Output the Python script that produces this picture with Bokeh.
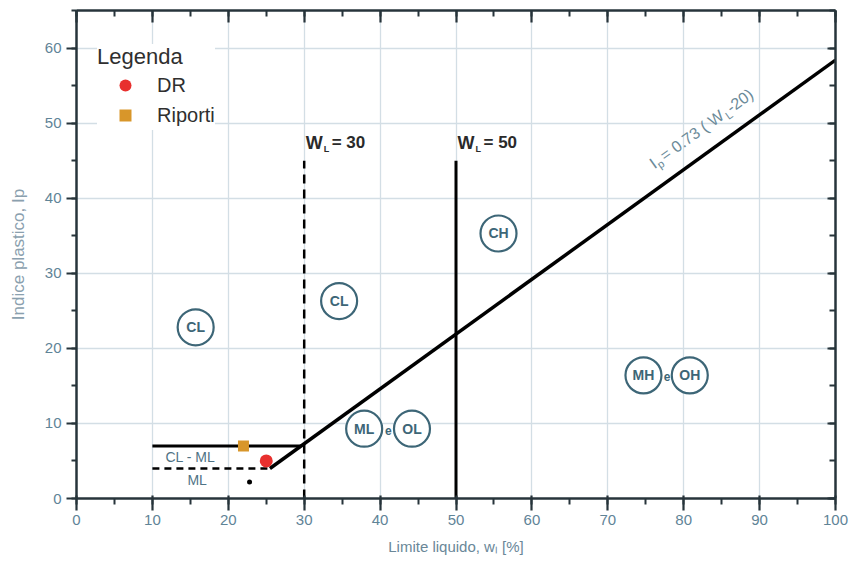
import math

from bokeh.core.properties import value
from bokeh.embed import file_html
from bokeh.models import (ColumnDataSource, CustomJSTickFormatter, Label, Legend,
                          LegendItem, LinearAxis, Range1d, SingleIntervalTicker)
from bokeh.plotting import figure
from bokeh.resources import INLINE

# ---- chart values -------------------------------------------------------
# Casagrande plasticity chart: A-line Ip = 0.73 (wL - 20)
a_coeff = 0.73
a_offset = 20.0
wl_end = 100.0

ip_cl_ml = 7.0        # upper limit of the CL-ML band
ip_ml = 4.0           # lower limit of the CL-ML band
wl_band_start = 10.0
wl_divides = [30.0, 50.0]
wl_divide_top = 45.0

dr_wl = [25.0]
dr_ip = [5.0]
riporti_wl = [22.0]
riporti_ip = [7.0]
extra_wl = [22.8]
extra_ip = [2.2]

zone_names = ["CL", "CL", "CH", "ML", "OL", "MH", "OH"]
zone_wl = [15.7, 34.6, 55.6, 37.9, 44.2, 74.7, 80.8]
zone_ip = [22.8, 26.3, 35.3, 9.3, 9.3, 16.4, 16.4]
join_wl = [41.1, 77.8]
join_ip = [9.1, 16.2]

band_labels = ["CL - ML", "ML"]
band_wl = [15.0, 15.9]
band_ip = [5.5, 2.5]

x_lim = (0, 100)
y_lim = (0, 65)

# ---- styling ------------------------------------------------------------
FONT = "Liberation Sans"
AXIS_DARK = "#27343b"
TICK_TXT = "#5f8497"
ZONE_CLR = "#3d6677"
GRID_CLR = "#d3dee5"

W, H = 849, 580
ML_, MR_, MT_, MB_ = 76, 14, 10, 82
frame_w = W - ML_ - MR_
frame_h = H - MT_ - MB_

p = figure(width=W, height=H, x_range=Range1d(*x_lim), y_range=Range1d(*y_lim),
           output_backend="svg", toolbar_location=None,
           min_border_left=ML_, min_border_right=MR_,
           min_border_top=MT_, min_border_bottom=MB_,
           background_fill_color="white", border_fill_color="white")
p.outline_line_color = None

blank = CustomJSTickFormatter(code="return ''")


def style_axis(ax):
    ax.axis_line_color = AXIS_DARK
    ax.axis_line_width = 2.5
    ax.major_tick_line_color = AXIS_DARK
    ax.minor_tick_line_color = AXIS_DARK
    ax.major_tick_line_width = 2.2
    ax.minor_tick_line_width = 2.0
    ax.major_label_text_font = FONT
    ax.major_label_text_font_size = "15px"
    ax.major_label_text_color = TICK_TXT


bx = p.xaxis[0]
bx.ticker = SingleIntervalTicker(interval=10, num_minor_ticks=2)
style_axis(bx)
bx.major_tick_out, bx.major_tick_in = 12, 3
bx.minor_tick_out, bx.minor_tick_in = 6, 0
bx.major_label_standoff = 4
bx.axis_label = "Limite liquido, w\u2097 [%]"
bx.axis_label_text_font = FONT
bx.axis_label_text_font_size = "15px"
bx.axis_label_text_font_style = "normal"
bx.axis_label_text_color = "#6a8798"
bx.axis_label_standoff = 10

ly = p.yaxis[0]
ly.ticker = SingleIntervalTicker(interval=10, num_minor_ticks=2)
style_axis(ly)
ly.major_tick_out, ly.major_tick_in = 10, 0
ly.minor_tick_out, ly.minor_tick_in = 5, 0
ly.major_label_standoff = 5
ly.axis_label = "Indice plastico, Ip"
ly.axis_label_text_font = FONT
ly.axis_label_text_font_size = "17px"
ly.axis_label_text_font_style = "normal"
ly.axis_label_text_color = "#8aa0ae"
ly.axis_label_standoff = 14

top = LinearAxis(ticker=SingleIntervalTicker(interval=10, num_minor_ticks=2), formatter=blank)
style_axis(top)
top.major_tick_out, top.major_tick_in = 0, 12
top.minor_tick_out, top.minor_tick_in = 0, 6
top.major_label_standoff = 0
p.add_layout(top, "above")

rgt = LinearAxis(ticker=SingleIntervalTicker(interval=10, num_minor_ticks=2), formatter=blank)
style_axis(rgt)
rgt.major_tick_out, rgt.major_tick_in = 0, 8
rgt.minor_tick_out, rgt.minor_tick_in = 0, 6
rgt.major_label_standoff = 0
p.add_layout(rgt, "right")

p.xgrid.ticker = SingleIntervalTicker(interval=10)
p.ygrid.ticker = SingleIntervalTicker(interval=10)
for g in (p.xgrid[0], p.ygrid[0]):
    g.grid_line_color = GRID_CLR
    g.grid_line_width = 1.3

# ---- reference lines ----------------------------------------------------
wl_a0 = a_offset + ip_ml / a_coeff          # A-line meets Ip = 4
wl_a7 = a_offset + ip_cl_ml / a_coeff       # A-line meets Ip = 7
a_x = [wl_a0, wl_end]
a_y = [a_coeff * (x - a_offset) for x in a_x]
p.line(a_x, a_y, line_color="black", line_width=3.5)

p.line([wl_band_start, wl_a7], [ip_cl_ml, ip_cl_ml], line_color="black", line_width=3)
p.line([wl_band_start, wl_a0], [ip_ml, ip_ml], line_color="black", line_width=2.5,
       line_dash="7 5")
p.line([wl_divides[0]] * 2, [0, wl_divide_top], line_color="black", line_width=2.5,
       line_dash="9 6")
p.line([wl_divides[1]] * 2, [0, wl_divide_top], line_color="black", line_width=3)

# ---- zone markers -------------------------------------------------------
zones = ColumnDataSource(dict(x=zone_wl, y=zone_ip, t=zone_names))
p.scatter("x", "y", source=zones, marker="circle", size=36, fill_color="white",
          line_color=ZONE_CLR, line_width=2.2)
p.text("x", "y", text="t", source=zones, text_align="center", text_baseline="middle",
       text_font=value(FONT), text_font_size="14px", text_font_style="bold",
       text_color=ZONE_CLR)
joins = ColumnDataSource(dict(x=join_wl, y=join_ip, t=["e"] * len(join_wl)))
p.text("x", "y", text="t", source=joins, text_align="center", text_baseline="middle",
       text_font=value(FONT), text_font_size="12px", text_font_style="bold",
       text_color=ZONE_CLR)
bands = ColumnDataSource(dict(x=band_wl, y=band_ip, t=band_labels))
p.text("x", "y", text="t", source=bands, text_align="center", text_baseline="middle",
       text_font=value(FONT), text_font_size="14px", text_color="#4f7385")

# ---- data points --------------------------------------------------------
r_dr = p.scatter(dr_wl, dr_ip, marker="circle", size=13, fill_color="#e8302e",
                 line_color=None)
r_rip = p.scatter(riporti_wl, riporti_ip, marker="square", size=11,
                  fill_color="#d8962a", line_color=None)
p.scatter(extra_wl, extra_ip, marker="circle", size=5, fill_color="black",
          line_color=None)

legend = Legend(items=[LegendItem(label="DR", renderers=[r_dr]),
                       LegendItem(label="Riporti", renderers=[r_rip])],
                location=(21, 368), title="Legenda",
                title_text_font=FONT, title_text_font_size="22px",
                title_text_font_style="normal", title_text_color="#2f2f2f",
                label_text_font=FONT, label_text_font_size="20px",
                label_text_color="#2f2f2f", padding=19, margin=0,
                glyph_width=56, glyph_height=30, label_height=30,
                label_standoff=4, spacing=0, title_standoff=0,
                border_line_color=None, background_fill_color="white",
                background_fill_alpha=1.0)
p.add_layout(legend, "center")


# ---- text labels with subscripts ---------------------------------------
def piece(x, y, text, dx, dy, size, color, style="normal", angle=0.0):
    p.add_layout(Label(x=x, y=y, text=text, x_offset=dx, y_offset=dy, angle=angle,
                       text_font=FONT, text_font_size=f"{size}px",
                       text_font_style=style, text_color=color,
                       text_align="left", text_baseline="alphabetic"))


for wl in wl_divides:
    lbl_y = 47.4
    piece(wl + 0.2, lbl_y, "W", 0, 0, 18, "#2a2a2a", "bold")
    piece(wl + 0.2, lbl_y, "L", 18, -6, 9, "#2a2a2a", "bold")
    piece(wl + 0.2, lbl_y, f"= {int(wl)}", 26, 0, 17, "#2a2a2a", "bold")

# A-line label, rotated along the line
px_per_x = frame_w / (x_lim[1] - x_lim[0])
px_per_y = frame_h / (y_lim[1] - y_lim[0])
ang = math.atan(a_coeff * px_per_y / px_per_x)
ux, uy = math.cos(ang), math.sin(ang)
nx, ny = -math.sin(ang), math.cos(ang)
anchor_x = 77.5
anchor_y = a_coeff * (anchor_x - a_offset)
gap = 23.0
parts = [("I", 0.0, 0.0, 16), ("p", 5.0, -5.0, 11), ("= 0.73 ( W", 13.0, 0.0, 16),
         ("L", 89.0, -5.0, 11), ("-20)", 95.0, 0.0, 16)]
for txt, s, e, fs in parts:
    d = gap + e
    piece(anchor_x, anchor_y, txt, nx * d + ux * s, ny * d + uy * s, fs, "#6b8a99",
          angle=ang)

open("out.html", "w").write(file_html(p, INLINE))
